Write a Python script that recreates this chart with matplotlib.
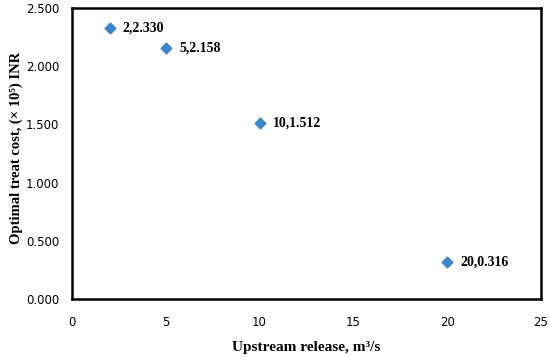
import matplotlib.pyplot as plt
from matplotlib.ticker import FormatStrFormatter

release = [2, 5, 10, 20]
cost = [2.330, 2.158, 1.512, 0.316]
point_labels = ['2,2.330', '5,2.158', '10,1.512', '20,0.316']

fig = plt.figure(figsize=(5.5, 3.58), dpi=100)
ax = fig.add_axes([72 / 550, 59 / 358, 469 / 550, 291 / 358])

ax.scatter(release, cost, marker='D', s=30, color='#3f86c8', zorder=3)
for x, y, lab in zip(release, cost, point_labels):
    ax.annotate(lab, (x, y), xytext=(9.5, 0), textcoords='offset points',
                va='center', ha='left', fontsize=10, fontweight='bold',
                family='Liberation Serif')

ax.set_xlim(0, 25)
ax.set_ylim(0, 2.5)
ax.set_xticks([0, 5, 10, 15, 20, 25])
ax.set_yticks([0, 0.5, 1.0, 1.5, 2.0, 2.5])
ax.yaxis.set_major_formatter(FormatStrFormatter('%.3f'))
ax.tick_params(length=0, labelsize=8.5, pad=12)
ax.tick_params(axis='y', pad=9)
for s in ax.spines.values():
    s.set_linewidth(1.8)
    s.set_color('black')

ax.set_xlabel('Upstream release, m³/s', fontsize=11, fontweight='bold',
              family='Liberation Serif', labelpad=9)
ax.set_ylabel('Optimal treat cost, (× 10⁵) INR', fontsize=10.5, fontweight='bold',
              family='Liberation Serif', labelpad=9)
ax.yaxis.set_label_coords(-0.105, 0.52)

fig.savefig('out.png', dpi=100)
